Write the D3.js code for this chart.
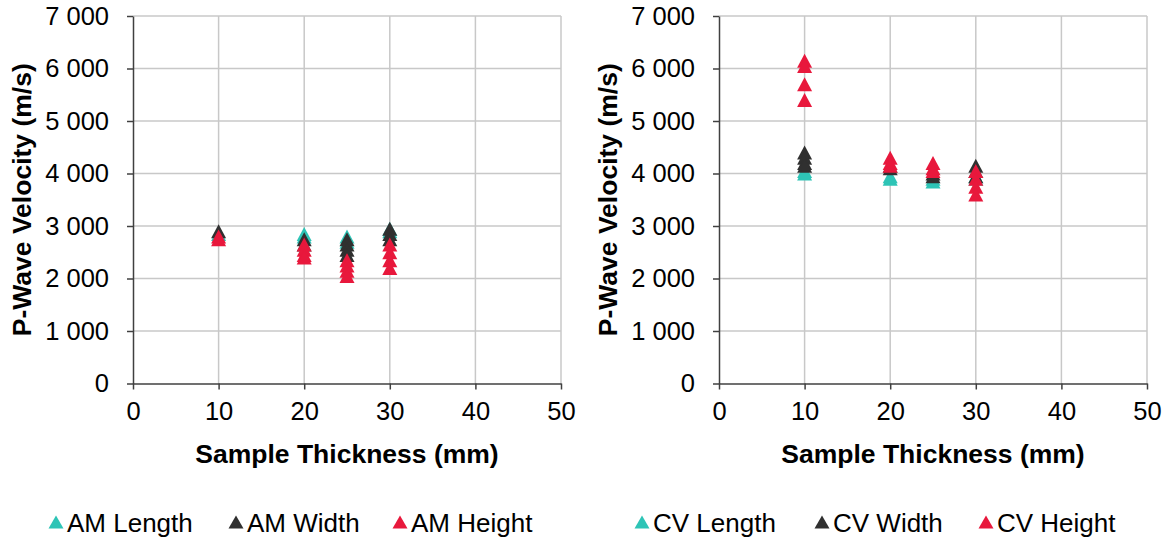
<!DOCTYPE html>
<html>
<head>
<meta charset="utf-8">
<script src="https://cdn.jsdelivr.net/npm/d3@7"></script>
<style>
  body { margin: 0; background: #fff; }
  svg text { font-family: "Liberation Sans", Arial, sans-serif; fill: #000; }
</style>
</head>
<body>
<div id="chart"></div>
<script>
// sample thickness (mm) and p-wave velocity (m/s)
var thickness = [10, 20, 25, 30];

var amLength = [[10,2850],[20,2850],[20,2800],[25,2800],[25,2700],[30,2950],[30,2900]];
var amWidth  = [[10,2900],[20,2750],[20,2650],[25,2750],[25,2650],[25,2550],[25,2450],[30,2950],[30,2850],[30,2750]];
var amHeight = [[10,2800],[10,2750],[20,2650],[20,2550],[20,2450],[20,2400],[25,2350],[25,2250],[25,2150],[25,2050],[30,2650],[30,2500],[30,2350],[30,2200]];

var cvLength = [[10,4000],[10,4050],[20,3900],[20,3950],[25,3850],[25,3900],[30,3950],[30,3900]];
var cvWidth  = [[10,4400],[10,4300],[10,4200],[10,4150],[20,4150],[20,4100],[25,4000],[25,3950],[30,4150],[30,4050],[30,3950]];
var cvHeight = [[10,6150],[10,6050],[10,5700],[10,5400],[20,4300],[20,4200],[20,4150],[25,4200],[25,4100],[25,4050],[30,4050],[30,3900],[30,3750],[30,3600]];

var xTicks = [0, 10, 20, 30, 40, 50];
var yTicks = [0, 1000, 2000, 3000, 4000, 5000, 6000, 7000];

var colors = { length: "#2ec4b6", width: "#303030", height: "#e8183c" };

var W = 1166, H = 539;
var svg = d3.select("#chart").append("svg").attr("width", W).attr("height", H);

var fmt = d3.formatLocale({ decimal: ".", thousands: " ", grouping: [3], currency: ["", ""] }).format(",");

// triangle centred on its bounding box, like excel markers
function tri(w, h) {
    return "M0," + (-h/2) + "L" + (w/2) + "," + (h/2) + "L" + (-w/2) + "," + (h/2) + "Z";
}

function drawPanel(left, series, names) {
    var x = d3.scaleLinear().domain([0, 50]).range([left, left + 428]);
    var y = d3.scaleLinear().domain([0, 7000]).range([383.5, 16]);
    var g = svg.append("g");

    // gridlines
    g.selectAll(".vg").data(xTicks.slice(1)).enter().append("line")
        .attr("x1", function(d){ return x(d); }).attr("x2", function(d){ return x(d); })
        .attr("y1", y(0)).attr("y2", y(7000))
        .attr("stroke", "#c8c8c8").attr("stroke-width", 1.5);
    g.selectAll(".hg").data(yTicks.slice(1)).enter().append("line")
        .attr("x1", x(0)).attr("x2", x(50))
        .attr("y1", function(d){ return y(d); }).attr("y2", function(d){ return y(d); })
        .attr("stroke", "#c8c8c8").attr("stroke-width", 1.5);

    // axes
    var xa = g.append("g").attr("transform", "translate(0," + y(0) + ")")
        .call(d3.axisBottom(x).tickValues(xTicks).tickSize(6).tickPadding(12).tickSizeOuter(0));
    var ya = g.append("g").attr("transform", "translate(" + x(0) + ",0)")
        .call(d3.axisLeft(y).tickValues(yTicks).tickFormat(fmt).tickSize(6).tickPadding(18).tickSizeOuter(0));
    [xa, ya].forEach(function(a){
        a.select(".domain").attr("stroke", "#404040").attr("stroke-width", 1.5);
        a.selectAll(".tick line").attr("stroke", "#404040").attr("stroke-width", 1.5);
        a.selectAll("text").attr("font-size", "25.5px").attr("fill", "#000")
            .style("font-family", "'Liberation Sans', Arial, sans-serif");
    });

    // axis titles
    g.append("text").attr("x", x(25)).attr("y", 463).attr("text-anchor", "middle")
        .attr("font-size", "26.5px").attr("font-weight", "bold").text("Sample Thickness (mm)");
    g.append("text").attr("transform", "translate(" + (left - 102) + "," + y(3500) + ") rotate(-90)")
        .attr("text-anchor", "middle").attr("font-size", "26.5px").attr("font-weight", "bold")
        .text("P-Wave Velocity (m/s)");

    // markers: length, width, then height on top
    var keys = ["length", "width", "height"];
    series.forEach(function(s, i){
        g.append("g").selectAll("path").data(s).enter().append("path")
            .attr("d", tri(15, 14))
            .attr("transform", function(d){ return "translate(" + x(d[0]) + "," + y(d[1]) + ")"; })
            .attr("fill", colors[keys[i]]);
    });

    // legend
    var legX = [left - 77, left + 103, left + 267];
    var lg = g.append("g").attr("transform", "translate(0,522)");
    names.forEach(function(n, i){
        lg.append("path").attr("d", tri(15, 13))
            .attr("transform", "translate(" + legX[i] + ",0)")
            .attr("fill", colors[keys[i]]);
        lg.append("text").attr("x", legX[i] + 11).attr("y", 10)
            .attr("font-size", "26px").text(n);
    });
}

drawPanel(133, [amLength, amWidth, amHeight], ["AM Length", "AM Width", "AM Height"]);
drawPanel(719, [cvLength, cvWidth, cvHeight], ["CV Length", "CV Width", "CV Height"]);
</script>
</body>
</html>
